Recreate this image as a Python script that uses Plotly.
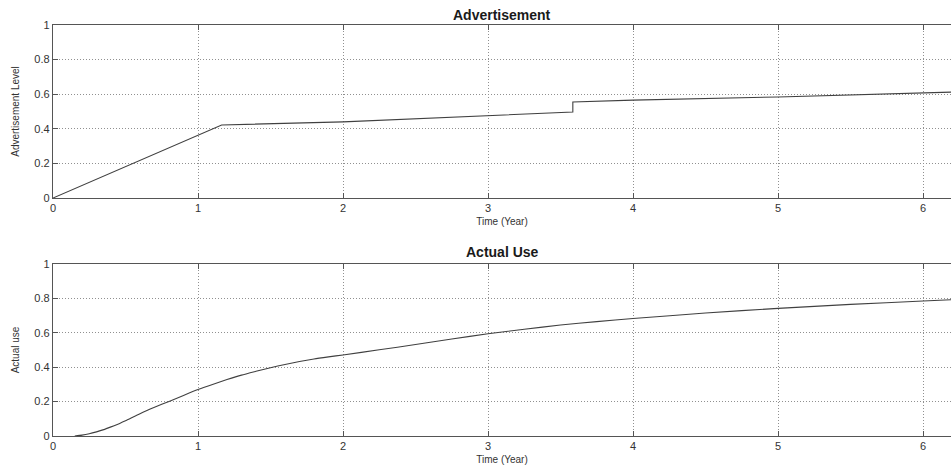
import plotly.graph_objects as go

# Advertisement level over time (ramp-up, slow growth, step, slow growth)
adv_time = [0.0, 1.163, 2.0, 3.0, 3.585, 3.585, 4.0, 5.0, 6.0, 6.2]
adv_level = [0.0, 0.422, 0.44, 0.474, 0.497, 0.555, 0.566, 0.584, 0.607, 0.612]

# Actual use over time (S-shaped adoption curve)
use_time = [0.15, 0.2, 0.25, 0.3, 0.35, 0.4, 0.46, 0.5, 0.6, 0.7, 0.8, 0.9, 1.0,
            1.1, 1.2, 1.3, 1.4, 1.5, 1.6, 1.7, 1.8, 1.9, 2.0, 2.25, 2.5, 2.75, 3.0,
            3.25, 3.5, 3.75, 4.0, 4.5, 5.0, 5.5, 6.0, 6.2]
use_level = [0.0, 0.005, 0.013, 0.024, 0.037, 0.053, 0.073, 0.088, 0.13, 0.167, 0.201,
             0.236, 0.27, 0.300, 0.328, 0.354, 0.376, 0.397, 0.416, 0.433, 0.448,
             0.460, 0.471, 0.501, 0.532, 0.564, 0.594, 0.621, 0.645, 0.665, 0.683,
             0.715, 0.742, 0.765, 0.785, 0.792]

x_ticks = [0, 1, 2, 3, 4, 5, 6]
y_ticks = [0, 0.2, 0.4, 0.6, 0.8, 1]
y_tick_text = ["0", "0.2", "0.4", "0.6", "0.8", "1"]

W, H = 951, 466
LINE = "#404040"
AXIS = "#555555"
GRID = "#909090"
FONT = "Liberation Sans, Arial, sans-serif"
NARROW = "Liberation Sans Narrow, Arial Narrow, Liberation Sans, sans-serif"


def py(px):
    """Convert a pixel row (from top) to paper y."""
    return 1 - px / H


fig = go.Figure()
fig.add_trace(go.Scatter(x=adv_time, y=adv_level, mode="lines",
                         line=dict(color=LINE, width=1.1), xaxis="x", yaxis="y",
                         showlegend=False, hoverinfo="skip"))
fig.add_trace(go.Scatter(x=use_time, y=use_level, mode="lines",
                         line=dict(color=LINE, width=1.1, shape="spline", smoothing=0.5),
                         xaxis="x2", yaxis="y2", showlegend=False, hoverinfo="skip"))

x_range = [0, 6.193]
DOTS = "1px,2px"

xcommon = dict(range=x_range, tickvals=x_ticks, ticks="inside", ticklen=5,
               tickcolor=AXIS, tickwidth=1.3, showline=True, linecolor=AXIS,
               linewidth=1.3, mirror="ticks", showgrid=True, gridcolor=GRID,
               griddash=DOTS, gridwidth=1, zeroline=False, automargin=False,
               tickfont=dict(family=FONT, size=11, color="#333333"),
               title=dict(text="Time (Year)", standoff=4,
                          font=dict(family=FONT, size=10, color="#333333")))
ycommon = dict(range=[0, 1], tickvals=y_ticks, ticktext=y_tick_text, ticks="inside",
               ticklen=5, tickcolor=AXIS, tickwidth=1.3, showline=True,
               linecolor=AXIS, linewidth=1.3, showgrid=True, gridcolor=GRID,
               griddash=DOTS, gridwidth=1, zeroline=False, automargin=False,
               tickfont=dict(family=FONT, size=11, color="#333333"))

fig.update_layout(
    width=W, height=H,
    margin=dict(l=53, r=0, t=0, b=0),
    paper_bgcolor="white", plot_bgcolor="white",
    xaxis=dict(xcommon, anchor="y"),
    yaxis=dict(ycommon, domain=[py(198), py(25)], anchor="x",
               title=dict(text="Advertisement Level", standoff=12,
                          font=dict(family=NARROW, size=10, color="#333333"))),
    xaxis2=dict(xcommon, anchor="y2"),
    yaxis2=dict(ycommon, domain=[py(436), py(264)], anchor="x2",
                title=dict(text="Actual use", standoff=12,
                           font=dict(family=NARROW, size=10, color="#333333"))),
    annotations=[
        dict(text="<b>Advertisement</b>", x=0.5, y=py(15), xref="paper", yref="paper",
             showarrow=False, xanchor="center", yanchor="middle",
             font=dict(family=FONT, size=14, color="#1a1a1a")),
        dict(text="<b>Actual Use</b>", x=0.5, y=py(252), xref="paper", yref="paper",
             showarrow=False, xanchor="center", yanchor="middle",
             font=dict(family=FONT, size=14, color="#1a1a1a")),
    ],
)

fig.write_html("out.html")
